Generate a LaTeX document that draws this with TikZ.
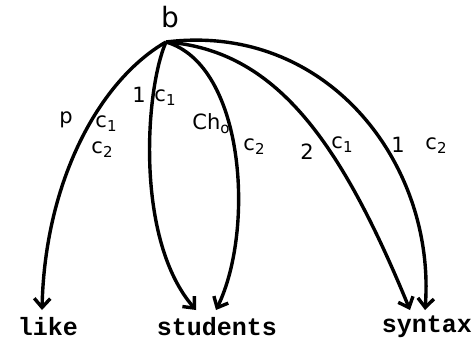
\documentclass[tikz,border=0pt]{standalone}
\usepackage{fontspec}
\setmonofont{Liberation Mono}
\setsansfont{DejaVu Sans}
\usetikzlibrary{arrows.meta}
\newcommand{\sbs}[1]{\raisebox{-0.35ex}{\fontsize{15}{15}\selectfont #1}}
\begin{document}
\begin{tikzpicture}[x=1pt,y=-1pt,
  edge/.style={line width=3.4pt,-{Straight Barb[length=9pt,width=16pt,line width=3.4pt]}},
  word/.style={font=\fontsize{25}{25}\selectfont\ttfamily\bfseries,inner sep=0pt},
  lab/.style={font=\fontsize{21}{21}\selectfont\sffamily,inner sep=0pt}]
\useasboundingbox (0,0) rectangle (474,342);
\coordinate (r) at (166,42);
\node[lab,font=\fontsize{28}{28}\selectfont\sffamily] (b) at (170,17) {b};
\node[word] (like) at (48,327) {like};
\node[word] (students) at (217,327) {students};
\node[word] (syntax) at (427,327) {syntax};
\coordinate (t1) at (42,310);
\coordinate (t2) at (196,310);
\coordinate (t3) at (216,310);
\coordinate (t4) at (410,310);
\coordinate (t5) at (425,310);
\draw[edge] (r) .. controls (100,80) and (45,180) .. (t1);
\draw[edge] (r) .. controls (145,90) and (135,240) .. (t2);
\draw[edge] (r) .. controls (245,65) and (255,230) .. (t3);
\draw[edge] (r) .. controls (275,50) and (340,140) .. (t4);
\draw[edge] (r) .. controls (328,22) and (436,165) .. (t5);
\node[lab] (lp) at (66,120) {p};
\node[lab] (l1a) at (106,124) {c\sbs{1}};
\node[lab] (l1b) at (102,150) {c\sbs{2}};
\node[lab] (l2a) at (139,95) {1};
\node[lab] (l2b) at (165,98) {c\sbs{1}};
\node[lab] (l3a) at (211,124) {Ch\sbs{o}};
\node[lab] (l3b) at (254,147) {c\sbs{2}};
\node[lab] (l4a) at (307,152) {2};
\node[lab] (l4b) at (342,145) {c\sbs{1}};
\node[lab] (l5a) at (398,145) {1};
\node[lab] (l5b) at (436,146) {c\sbs{2}};
\end{tikzpicture}
\end{document}
